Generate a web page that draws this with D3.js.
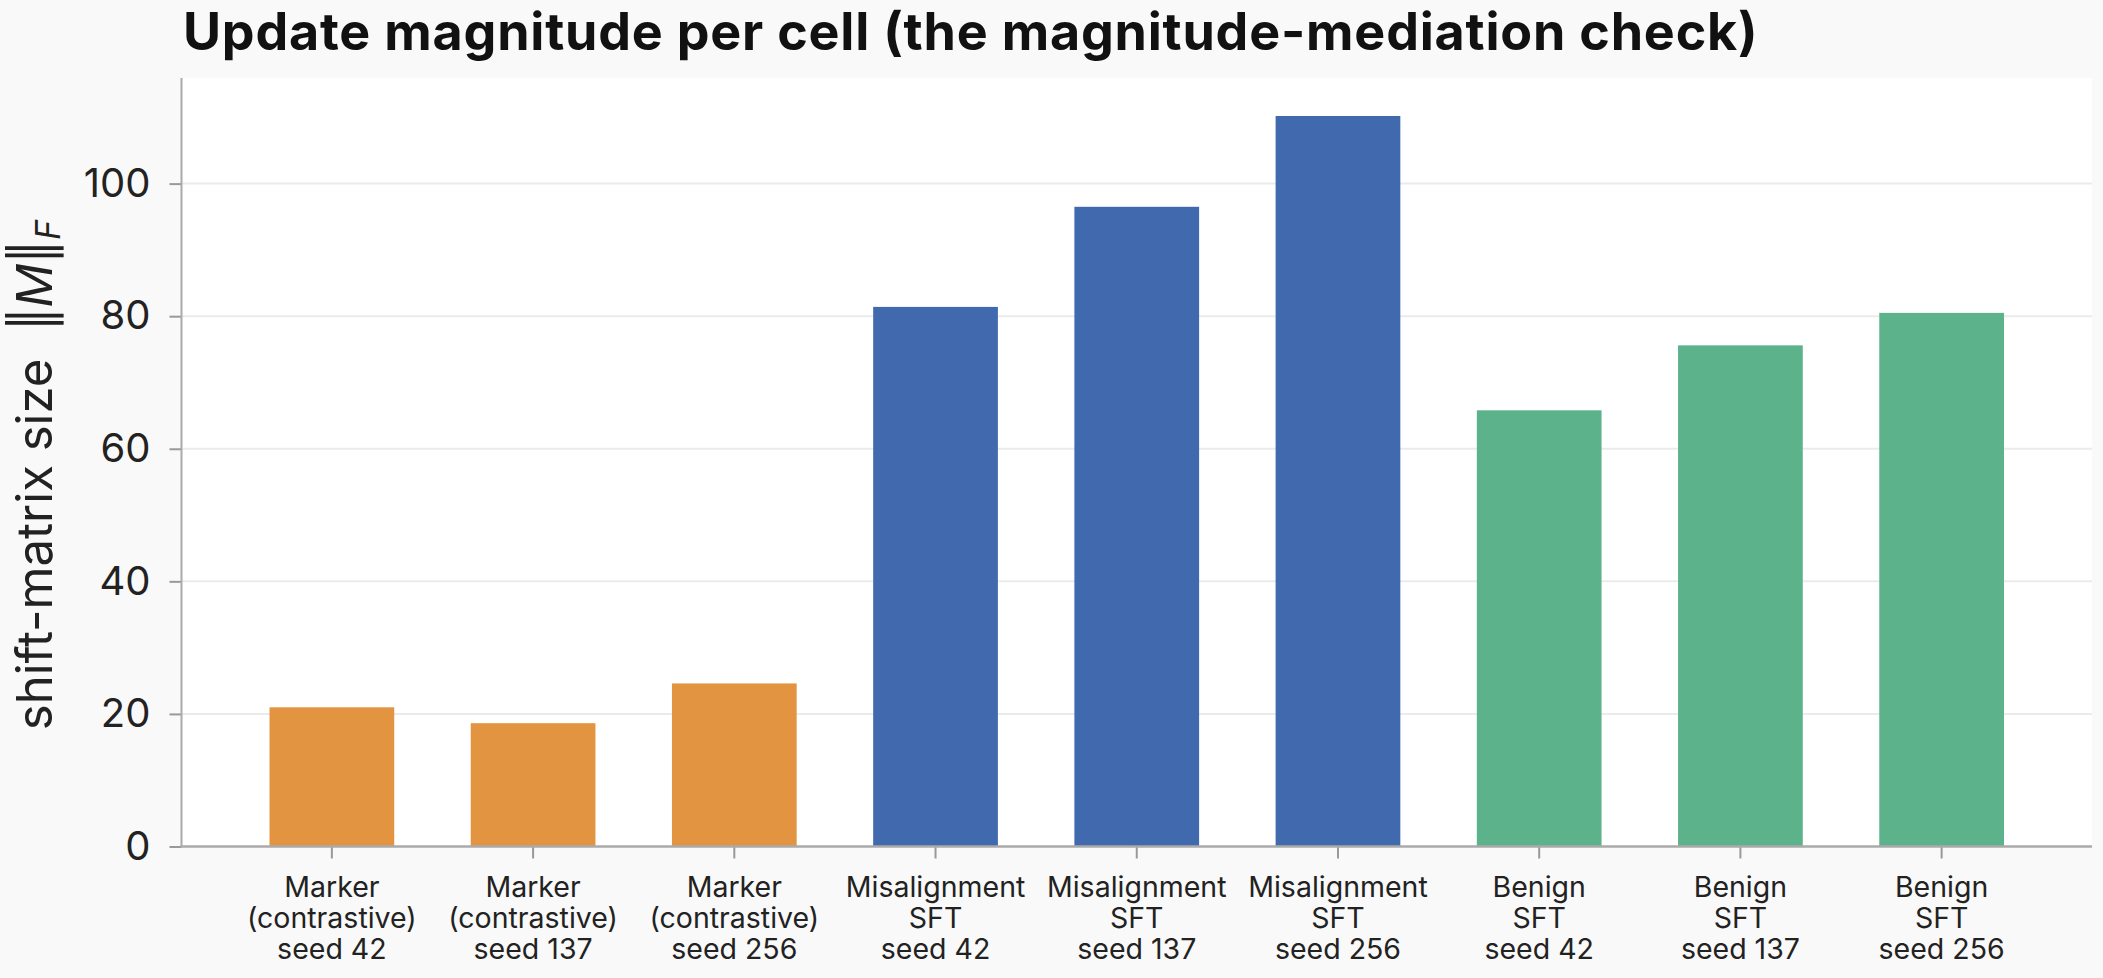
<!DOCTYPE html>
<html>
<head>
<meta charset="utf-8">
<script src="https://cdn.jsdelivr.net/npm/d3@7"></script>
<style>
  html, body { margin: 0; padding: 0; background: #f9f9f9; }
  svg { display: block; }
  text { font-family: Inter, "Noto Sans", sans-serif; }
</style>
</head>
<body>
<svg id="chart" width="2103" height="978"></svg>
<script>
const categories = [
  ["Marker", "(contrastive)", "seed 42"],
  ["Marker", "(contrastive)", "seed 137"],
  ["Marker", "(contrastive)", "seed 256"],
  ["Misalignment", "SFT", "seed 42"],
  ["Misalignment", "SFT", "seed 137"],
  ["Misalignment", "SFT", "seed 256"],
  ["Benign", "SFT", "seed 42"],
  ["Benign", "SFT", "seed 137"],
  ["Benign", "SFT", "seed 256"]
];
const groups = ["marker", "marker", "marker", "misalign", "misalign", "misalign", "benign", "benign", "benign"];
const values = [21.0, 18.6, 24.6, 81.4, 96.5, 110.2, 65.8, 75.6, 80.5];
const yTicks = [0, 20, 40, 60, 80, 100];
const groupColors = { marker: "#e39440", misalign: "#4169ad", benign: "#5bb28b" };
const titleText = "Update magnitude per cell (the magnitude-mediation check)";

const W = 2103, H = 978;
const plot = { left: 181.5, right: 2092, top: 78, bottom: 846.5 };
const svg = d3.select("#chart");

svg.append("rect").attr("width", W).attr("height", H).attr("fill", "#f9f9f9");
svg.append("rect")
  .attr("x", plot.left).attr("y", plot.top)
  .attr("width", plot.right - plot.left).attr("height", plot.bottom - plot.top)
  .attr("fill", "#ffffff");

const idx = d3.range(values.length);
const x = d3.scaleBand().domain(idx).range([plot.left, plot.right])
  .paddingInner(0.3802).paddingOuter(0.4374);
const y = d3.scaleLinear().domain([0, d3.max(values) * 1.052]).range([plot.bottom, plot.top]);

// gridlines
svg.append("g").selectAll("line").data(yTicks.filter(d => d > 0)).join("line")
  .attr("x1", plot.left).attr("x2", plot.right)
  .attr("y1", d => y(d)).attr("y2", d => y(d))
  .attr("stroke", "#ebebeb").attr("stroke-width", 2);

// bars
svg.append("g").selectAll("rect").data(idx).join("rect")
  .attr("x", i => x(i)).attr("width", x.bandwidth())
  .attr("y", i => y(values[i])).attr("height", i => y(0) - y(values[i]))
  .attr("fill", i => groupColors[groups[i]]);

// y axis
const yAxis = d3.axisLeft(y).tickValues(yTicks).tickSize(12).tickPadding(19).tickFormat(d3.format("d"));
const gy = svg.append("g").attr("transform", `translate(${plot.left},0)`).call(yAxis);
gy.select(".domain").remove();
gy.selectAll(".tick line").attr("stroke", "#999").attr("stroke-width", 2);
gy.selectAll(".tick text").attr("font-size", 40).attr("fill", "#222")
  .attr("font-family", "Inter, sans-serif");

// x axis
const xAxis = d3.axisBottom(x).tickSize(12).tickFormat(() => "");
const gx = svg.append("g").attr("transform", `translate(0,${plot.bottom})`).call(xAxis);
gx.select(".domain").remove();
gx.selectAll(".tick line").attr("stroke", "#999").attr("stroke-width", 2);
gx.selectAll(".tick text").remove();
gx.selectAll(".tick").each(function(i) {
  const t = d3.select(this).append("text")
    .attr("text-anchor", "middle").attr("font-size", 28.5).attr("fill", "#222")
    .attr("font-family", "Inter, sans-serif");
  categories[i].forEach((line, k) => {
    t.append("tspan").attr("x", 0).attr("y", 50 + k * 31).text(line);
  });
});

// spines
svg.append("line").attr("x1", plot.left).attr("x2", plot.left)
  .attr("y1", plot.top).attr("y2", plot.bottom)
  .attr("stroke", "#aaaaaa").attr("stroke-width", 2);
svg.append("line").attr("x1", plot.left - 1).attr("x2", plot.right)
  .attr("y1", plot.bottom).attr("y2", plot.bottom)
  .attr("stroke", "#aaaaaa").attr("stroke-width", 2.5);

// title
svg.append("text").attr("x", 183).attr("y", 50)
  .attr("font-size", 52).attr("font-weight", 700).attr("fill", "#111")
  .attr("letter-spacing", 0.8)
  .text(titleText);

// y label
const yl = svg.append("text")
  .attr("transform", `translate(52,475) rotate(-90)`)
  .attr("text-anchor", "middle").attr("font-size", 49).attr("fill", "#222");
yl.append("tspan").text("shift-matrix size\u00a0\u00a0\u2016");
yl.append("tspan").attr("font-style", "italic").text("M");
yl.append("tspan").text("\u2016");
yl.append("tspan").attr("font-style", "italic").attr("font-size", 34).attr("dy", 8).text("F");
</script>
</body>
</html>
